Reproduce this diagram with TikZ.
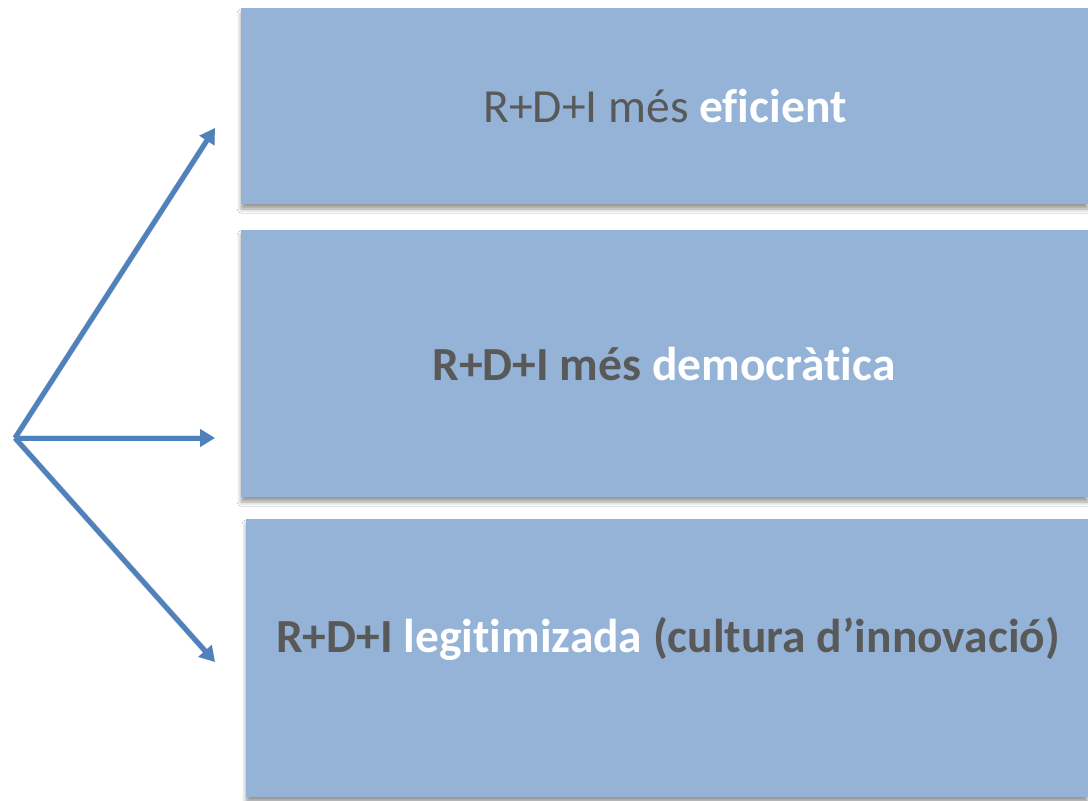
\documentclass[tikz,border=0pt]{standalone}
\usepackage{fontspec}
\setmainfont{Carlito}[Ligatures=NoCommon]
\usetikzlibrary{arrows.meta,shadows.blur}
\definecolor{boxblue}{HTML}{95B3D7}
\definecolor{arrowblue}{HTML}{4F81BD}
\definecolor{txtgray}{HTML}{595959}
\tikzset{
  panel/.style={fill=boxblue, draw=none, blur shadow={shadow xshift=0pt, shadow yshift=-5pt, shadow blur radius=4pt, shadow opacity=40}},
  conn/.style={draw=arrowblue, line width=5pt, -{Triangle[length=15pt,width=17pt]}},
  connshadow/.style={draw=black!40, opacity=0.3, line width=6pt, -{Triangle[length=15pt,width=18pt]}},
  lbl/.style={text=txtgray, font=\fontsize{47.5}{56}\selectfont, anchor=base}
}
\begin{document}
\begin{tikzpicture}[x=1pt,y=-1pt]
\useasboundingbox (0,0) rectangle (1088,801);
\fill[white] (0,0) rectangle (1088,801);
\path[panel] (241,8) rectangle (1088,204);
\path[panel] (241,230) rectangle (1088,497);
\path[panel] (246,519) rectangle (1088,797);
\node[lbl] (t1) at (665,122) {R+D+I més \textcolor{white}{\bfseries eficient}};
\node[lbl] (t2) at (664,380) {\bfseries R+D+I més \textcolor{white}{democràtica}};
\node[lbl] (t3) at (668,652) {\bfseries R+D+I \textcolor{white}{legitimizada} (cultura d’innovació)};
\coordinate (o) at (15,438);
\coordinate (e1) at (215,128);
\coordinate (e2) at (215,438);
\coordinate (e3) at (215,662);
\begin{scope}[xshift=1.5pt,yshift=-3pt]
\draw[connshadow] (o) -- (e1);
\draw[connshadow] (o) -- (e2);
\draw[connshadow] (o) -- (e3);
\end{scope}
\draw[conn] (o) -- (e1);
\draw[conn] (o) -- (e2);
\draw[conn] (o) -- (e3);
\end{tikzpicture}
\end{document}
